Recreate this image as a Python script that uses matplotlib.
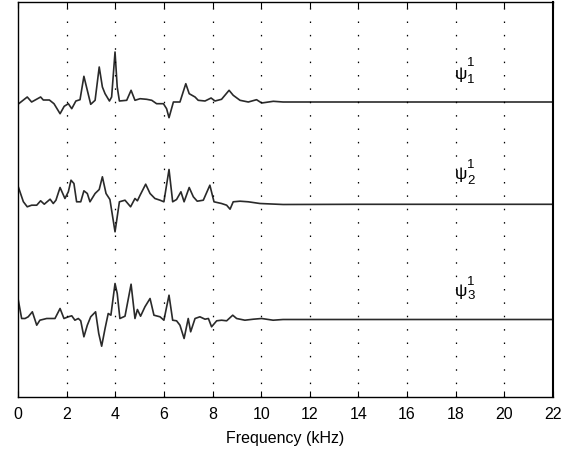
import matplotlib
matplotlib.use("Agg")
import matplotlib.pyplot as plt
import numpy as np

# x tick values (kHz)
ticks = [0, 2, 4, 6, 8, 10, 12, 14, 16, 18, 20, 22]

# Trace 1 (psi_1^1): frequency (kHz) and amplitude (vertical units)
f1 = [0.04, 0.38, 0.56, 0.93, 1.04, 1.29, 1.48, 1.73, 1.90, 2.07, 2.21, 2.38, 2.55, 2.71,
      2.85, 2.99, 3.17, 3.34, 3.47, 3.58, 3.76, 3.85, 3.99, 4.08, 4.17, 4.47, 4.65, 4.81,
      5.02, 5.29, 5.50, 5.70, 5.98, 6.11, 6.21, 6.39, 6.66, 6.90, 7.04, 7.28, 7.41, 7.69,
      7.94, 8.10, 8.37, 8.68, 8.85, 9.13, 9.47, 9.81, 10.02, 10.5, 10.9, 14.0, 18.0, 22.0]
a1 = [-1.5, 5, 0, 5, 2, 2, -1.7, -11.7, -4.3, -1.7, -6.7, 1, 2.3, 25.7,
      11.7, -2.3, 1.7, 35, 15, 8.3, 1, 5, 50, 15, 1, 1.7, 11.7, 1.7,
      3.3, 2.7, 1.7, -1.7, -1.7, -6.7, -15.7, 0, 0, 18.3, 8.3, 5, 1.7, 1,
      4, 1, 2.7, 11.7, 6.7, 1.7, 0, 2.3, -1, 0.7, 0, 0, 0, 0]

# Trace 2 (psi_2^1)
f2 = [0.0, 0.22, 0.38, 0.56, 0.77, 0.93, 1.08, 1.32, 1.45, 1.56, 1.73, 1.93, 2.07, 2.18,
      2.30, 2.41, 2.58, 2.71, 2.85, 2.96, 3.17, 3.34, 3.47, 3.62, 3.78, 3.99, 4.17, 4.40,
      4.63, 4.81, 4.91, 5.02, 5.25, 5.43, 5.63, 5.84, 6.00, 6.21, 6.36, 6.52, 6.70, 6.83,
      7.04, 7.21, 7.37, 7.62, 7.89, 8.06, 8.37, 8.58, 8.72, 8.85, 9.13, 9.47, 9.95, 10.9,
      14.0, 18.0, 22.0]
a2 = [17.5, 1.8, -3.3, -1.7, -1.7, 2.7, -0.7, 4.3, 0, 3.3, 16, 5, 11.7, 23.3,
      20, 1.7, 1.7, 12.7, 10, 1.7, 10, 14, 26.7, 10, 4, -28.3, 1.7, 3.3,
      -3.3, 5, 2.7, 8.3, 19.3, 10, 5, 3.3, 1.7, 34, 1.7, 4, 11.7, 1.7,
      16, 6.7, 2.3, 3.3, 18.3, 1.7, 0, -1.7, -5.7, 1.7, 2.3, 1.7, 0, -1,
      -0.8, -0.8, -0.8]

# Trace 3 (psi_3^1)
f3 = [0.0, 0.15, 0.29, 0.42, 0.59, 0.77, 0.90, 1.18, 1.52, 1.73, 1.89, 2.07, 2.21, 2.34,
      2.48, 2.58, 2.71, 2.85, 2.99, 3.19, 3.32, 3.44, 3.58, 3.71, 3.82, 3.99, 4.08, 4.19,
      4.40, 4.65, 4.81, 4.91, 5.04, 5.22, 5.43, 5.59, 5.84, 6.00, 6.21, 6.36, 6.52, 6.66,
      6.83, 7.00, 7.10, 7.28, 7.48, 7.69, 7.83, 7.96, 8.17, 8.37, 8.58, 8.83, 8.99, 9.33,
      9.68, 10.02, 10.49, 10.9, 14.0, 18.0, 22.0]
a3 = [21, 1, 1, 2.7, 7.7, -5.7, -0.7, 1, 1, 11, 1, 2.7, 3.7, -0.7,
      1, -1.3, -17.3, -5.7, 2.7, 7.7, -14, -26.7, -9, 6, 4.3, 36, 26, 1,
      3.3, 35.3, 1, 10, 3.3, 12.7, 21, 4.3, 2.7, -0.7, 24.3, -0.7, -1.3, -5.7,
      -19, 1, -12.3, 1, 2.7, 0.3, 1, -7.3, -1.3, -0.7, -1.3, 4.3, 1, -0.7,
      0.3, 1, -0.7, 0, 0, 0, 0]

# vertical offsets of the three traces
offsets = [295, 193.5, 77.5]

# labels: psi with superscript and subscript
sup_labels = ["1", "1", "1"]
sub_labels = ["1", "2", "3"]
psi_y = [323, 222, 105.5]
sup_y = [334.5, 232, 115]
sub_y = [317, 216, 101]

plt.rcParams['font.family'] = ['Liberation Sans', 'DejaVu Sans']

fig = plt.figure(figsize=(5.75, 4.55), dpi=100)
ax = fig.add_axes([18/575, 1 - 397/455, 535/575, 395/455])

for f, a, off in zip([f1, f2, f3], [a1, a2, a3], offsets):
    ax.plot(f, np.asarray(a) + off, color='#2a2a2a', lw=1.2)

for py, sy, by, sp, sb in zip(psi_y, sup_y, sub_y, sup_labels, sub_labels):
    ax.text(17.95, py, "\u03c8", fontsize=12.5, ha='left', va='center', color='black')
    ax.text(18.48, sy, sp, fontsize=9.5, ha='left', va='center', color='black')
    ax.text(18.48, by, sb, fontsize=9.5, ha='left', va='center', color='black')

ax.set_xlim(0, 22)
ax.set_ylim(0, 395)
ax.set_xticks(ticks)
ax.set_xticklabels([str(t) for t in ticks], fontsize=11.5)
ax.set_yticks([])
ax.tick_params(axis='x', direction='in', length=4, top=True, pad=7)
ax.set_xlabel('Frequency (kHz)', fontsize=11.5, labelpad=7)

for t in ticks[1:-1]:
    ax.axvline(t, color='black', lw=0.9, linestyle=(0, (1.2, 9.5)))

for s in ax.spines.values():
    s.set_linewidth(1.0)
    s.set_color('black')
ax.spines['right'].set_linewidth(1.5)

fig.savefig('out.png', dpi=100)
